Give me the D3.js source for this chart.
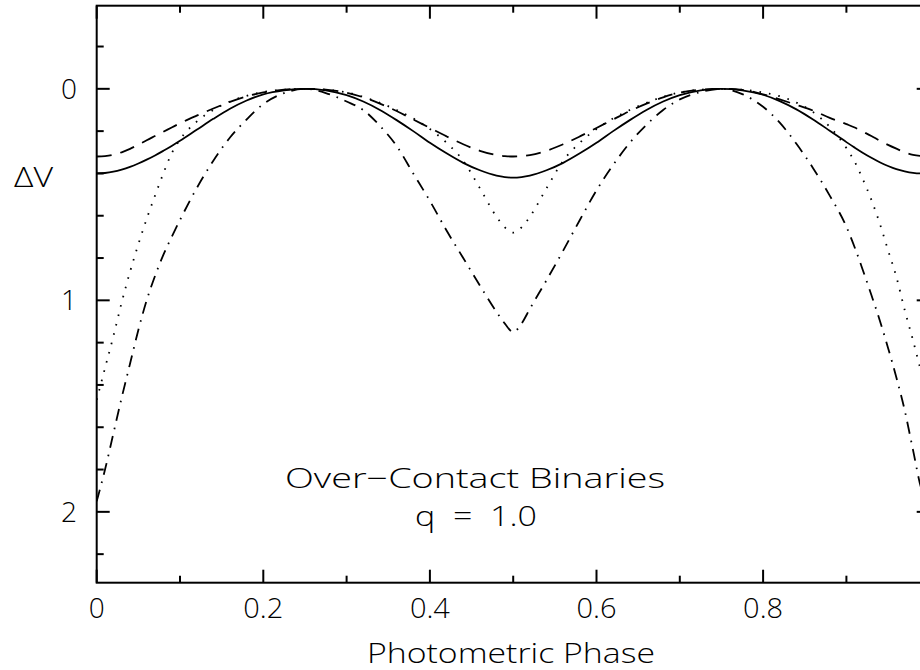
<!DOCTYPE html>
<html><head><meta charset="utf-8">
<script src="https://cdn.jsdelivr.net/npm/d3@7"></script>
<style>body{margin:0;background:#fff}svg{display:block}text{white-space:pre}</style>
</head><body><svg id="c" width="920" height="670"></svg>
<script>
// ---- data ----
const phase = [0,0.01,0.02,0.03,0.04,0.05,0.06,0.07,0.08,0.09,0.10,
  0.12,0.14,0.16,0.18,0.20,0.225,0.25,0.275,
  0.30,0.32,0.34,0.36,0.38,0.40,0.42,0.44,0.46,0.48,0.49,0.50,0.51,
  0.52,0.54,0.56,0.58,0.60,0.62,0.64,0.66,0.68,0.70,0.725,0.75,0.775,
  0.80,0.82,0.84,0.86,0.88,0.90,0.91,0.92,0.93,0.94,0.95,0.96,0.97,0.98,0.99,1.00];
const solid = [0.40,0.398,0.392,0.382,0.369,0.353,0.335,0.315,0.293,0.27,0.246,
  0.194,0.142,0.094,0.055,0.026,0.007,0,0.007,
  0.03,0.06,0.10,0.148,0.20,0.255,0.305,0.35,0.385,0.41,0.417,0.42,0.417,
  0.41,0.385,0.35,0.305,0.255,0.20,0.148,0.10,0.06,0.03,0.007,0,0.007,
  0.028,0.058,0.097,0.145,0.198,0.252,0.278,0.303,0.326,0.347,0.365,0.38,0.39,0.397,0.40,0.40];
const dashed = [0.32,0.318,0.312,0.30,0.284,0.264,0.243,0.223,0.203,0.183,0.163,
  0.127,0.093,0.062,0.036,0.017,0.004,0,0.004,
  0.018,0.04,0.07,0.105,0.145,0.185,0.225,0.262,0.293,0.313,0.318,0.32,0.318,
  0.313,0.293,0.262,0.225,0.185,0.145,0.105,0.07,0.04,0.018,0.004,0,0.005,
  0.026,0.05,0.076,0.103,0.137,0.167,0.183,0.203,0.223,0.245,0.265,0.283,0.30,0.312,0.318,0.32];
const dotted = [1.47,1.32,1.17,1.01,0.865,0.735,0.615,0.505,0.40,0.305,0.24,
  0.155,0.10,0.06,0.033,0.015,0.004,0,0.004,
  0.017,0.038,0.066,0.10,0.14,0.19,0.255,0.34,0.47,0.605,0.655,0.68,0.655,
  0.605,0.47,0.34,0.255,0.19,0.14,0.10,0.066,0.038,0.017,0.004,0,0.004,
  0.017,0.035,0.065,0.11,0.18,0.28,0.345,0.43,0.525,0.636,0.763,0.889,1.046,1.19,1.34,1.47];
const dashDot = [1.95,1.80,1.63,1.46,1.30,1.14,1.0,0.885,0.785,0.70,0.62,
  0.47,0.34,0.23,0.145,0.072,0.02,0,0.02,
  0.06,0.10,0.175,0.27,0.40,0.53,0.67,0.80,0.93,1.055,1.11,1.15,1.11,
  1.04,0.905,0.765,0.62,0.48,0.36,0.255,0.17,0.10,0.05,0.015,0,0.025,
  0.085,0.16,0.26,0.375,0.505,0.652,0.75,0.86,0.975,1.094,1.225,1.365,1.52,1.708,1.89,1.95];

const xMajor = [0,0.2,0.4,0.6,0.8,1.0];
const xTickLabels = ["0","0.2","0.4","0.6","0.8"];
const xMinor = [0.1,0.3,0.5,0.7,0.9];
const yMajor = [0,1,2];
const yTickLabels = ["0","1","2"];
const yMinor = [-0.2,0.2,0.4,0.6,0.8,1.2,1.4,1.6,1.8,2.2];
const titleLines = ["Over\u2212Contact Binaries","q  =  1.0"];
const xTitle = "Photometric Phase";
const yTitle = "\u0394V";

// ---- drawing ----
const svg = d3.select("#c");
const L = 96.7, R = 929.7, T = 5.7, B = 582.7;
const x = d3.scaleLinear().domain([0,1]).range([L,R]);
const y = d3.scaleLinear().domain([-0.393,2.335]).range([T,B]);
const font = "'Open Sans', 'DejaVu Sans', sans-serif";
const ink = "#000";

svg.append("defs").append("clipPath").attr("id","clip")
  .append("rect").attr("x",L).attr("y",T).attr("width",R-L).attr("height",B-T);

const series = [
  {v: solid, dash: null},
  {v: dashed, dash: "15,9"},
  {v: dotted, dash: "1.6,8"},
  {v: dashDot, dash: "12,7,1.6,7"}
];
const line = d3.line().x(d=>x(d[0])).y(d=>y(d[1])).curve(d3.curveMonotoneX);
const g = svg.append("g").attr("clip-path","url(#clip)");
series.forEach(s=>{
  g.append("path").attr("d", line(phase.map((p,i)=>[p,s.v[i]])))
    .attr("fill","none").attr("stroke",ink).attr("stroke-width",1.8)
    .attr("stroke-dasharray", s.dash)
    .attr("stroke-linecap", s.dash ? "butt" : "round");
});

// frame
svg.append("rect").attr("x",L).attr("y",T).attr("width",R-L).attr("height",B-T)
  .attr("fill","none").attr("stroke",ink).attr("stroke-width",2);

// ticks
const tk = svg.append("g").attr("stroke",ink).attr("stroke-width",2);
const MAJ = 13, MIN = 7;
xMajor.forEach(v=>{
  tk.append("line").attr("x1",x(v)).attr("x2",x(v)).attr("y1",B).attr("y2",B-MAJ);
  tk.append("line").attr("x1",x(v)).attr("x2",x(v)).attr("y1",T).attr("y2",T+MAJ);
});
xMinor.forEach(v=>{
  tk.append("line").attr("x1",x(v)).attr("x2",x(v)).attr("y1",B).attr("y2",B-MIN);
  tk.append("line").attr("x1",x(v)).attr("x2",x(v)).attr("y1",T).attr("y2",T+MIN);
});
yMajor.forEach(v=>{
  tk.append("line").attr("y1",y(v)).attr("y2",y(v)).attr("x1",L).attr("x2",L+MAJ);
  tk.append("line").attr("y1",y(v)).attr("y2",y(v)).attr("x1",R).attr("x2",R-MAJ);
});
yMinor.forEach(v=>{
  tk.append("line").attr("y1",y(v)).attr("y2",y(v)).attr("x1",L).attr("x2",L+MIN);
  tk.append("line").attr("y1",y(v)).attr("y2",y(v)).attr("x1",R).attr("x2",R-MIN);
});

// labels
const txt = svg.append("g").attr("font-family",font).attr("font-weight",300)
  .attr("font-size",28).attr("fill",ink);
xTickLabels.forEach((lab,i)=>{
  const t = txt.append("text").attr("x",x(xMajor[i])).attr("y",618).attr("text-anchor","middle").text(lab);
  if (lab.length > 1) t.attr("textLength",40).attr("lengthAdjust","spacingAndGlyphs");
});
yMajor.forEach((v,i)=>{
  txt.append("text").attr("x",77).attr("y",y(v)+10).attr("text-anchor","end").text(yTickLabels[i]);
});
txt.append("text").attr("x",33.5).attr("y",187).attr("text-anchor","middle")
  .attr("textLength",39).attr("lengthAdjust","spacingAndGlyphs").text(yTitle);
txt.append("text").attr("x",511).attr("y",663).attr("text-anchor","middle")
  .attr("textLength",288).attr("lengthAdjust","spacingAndGlyphs").text(xTitle);
txt.append("text").attr("x",475).attr("y",488).attr("text-anchor","middle")
  .attr("textLength",380).attr("lengthAdjust","spacingAndGlyphs").text(titleLines[0]);
txt.append("text").attr("x",476).attr("y",526).attr("text-anchor","middle")
  .attr("textLength",122).attr("lengthAdjust","spacingAndGlyphs").text(titleLines[1]);
</script></body></html>
